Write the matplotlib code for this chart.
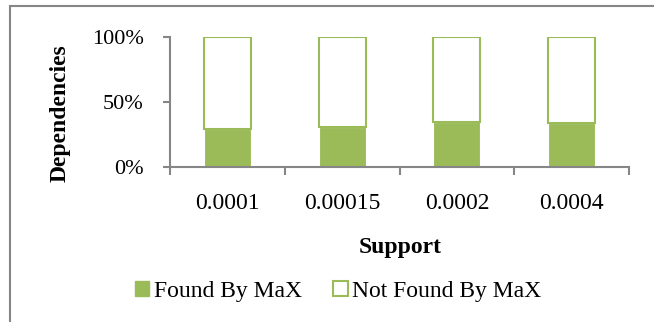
import matplotlib.pyplot as plt
from matplotlib.patches import Patch, Rectangle
import numpy as np

plt.rcParams['font.family'] = ['Liberation Serif', 'DejaVu Serif']

# 데이터
support = ["0.0001", "0.00015", "0.0002", "0.0004"]
found = [29.5, 30.8, 34.4, 33.6]
not_found = [100 - v for v in found]

GREEN = "#9BBB59"
GRAY = "#868686"
FS = 17

fig = plt.figure(figsize=(6.54, 3.22), dpi=100)
ax = fig.add_axes([170 / 654, 1 - 167 / 322, (629 - 170) / 654, 130 / 322])

x = np.arange(len(support))
w = 0.41
ax.bar(x, found, width=w, color=GREEN, edgecolor="white", linewidth=0.8)
ax.bar(x, not_found, width=w, bottom=found, color="white",
       edgecolor=GREEN, linewidth=1.5)

ax.set_xlim(-0.5, len(support) - 0.5)
ax.set_ylim(0, 100)

# 축 스타일
for s in ["top", "right"]:
    ax.spines[s].set_visible(False)
for s in ["left", "bottom"]:
    ax.spines[s].set_color(GRAY)
    ax.spines[s].set_linewidth(1.5)

ax.set_yticks([0, 50, 100])
ax.set_yticklabels(["0%", "50%", "100%"], fontsize=16)
ax.tick_params(axis="y", length=5, width=1.5, color=GRAY, pad=14)

# 경계 눈금은 major, 라벨은 minor
ax.set_xticks(np.arange(-0.5, len(support), 1.0))
ax.set_xticklabels([])
ax.tick_params(axis="x", which="major", length=6, width=1.5, color=GRAY)
ax.set_xticks(x, minor=True)
ax.set_xticklabels(support, minor=True, fontsize=FS)
ax.tick_params(axis="x", which="minor", length=0, pad=19)

fig.text(400 / 654, 1 - 247 / 322, "Support", fontsize=FS, fontweight="bold",
         ha="center", va="center")
fig.text(60 / 654, 1 - 113 / 322, "Dependencies", fontsize=17, fontweight="bold",
         ha="center", va="center", rotation=90)

handles = [Patch(facecolor=GREEN, edgecolor=GREEN),
           Patch(facecolor="white", edgecolor=GREEN, linewidth=1.5)]
fig.legend(handles, ["Found By MaX", "Not Found By MaX"], loc="center",
           bbox_to_anchor=(338 / 654, 1 - 291 / 322), ncol=2, frameon=False,
           fontsize=FS, handlelength=0.6, handleheight=0.6,
           handletextpad=0.2, columnspacing=1.35)

# 바깥 테두리
fig.patches.append(Rectangle((10 / 654, -0.2), 1.2, 1.2 - 6 / 322,
                             transform=fig.transFigure, fill=False,
                             edgecolor=GRAY, linewidth=1.5))

fig.savefig("out.png", dpi=100)
